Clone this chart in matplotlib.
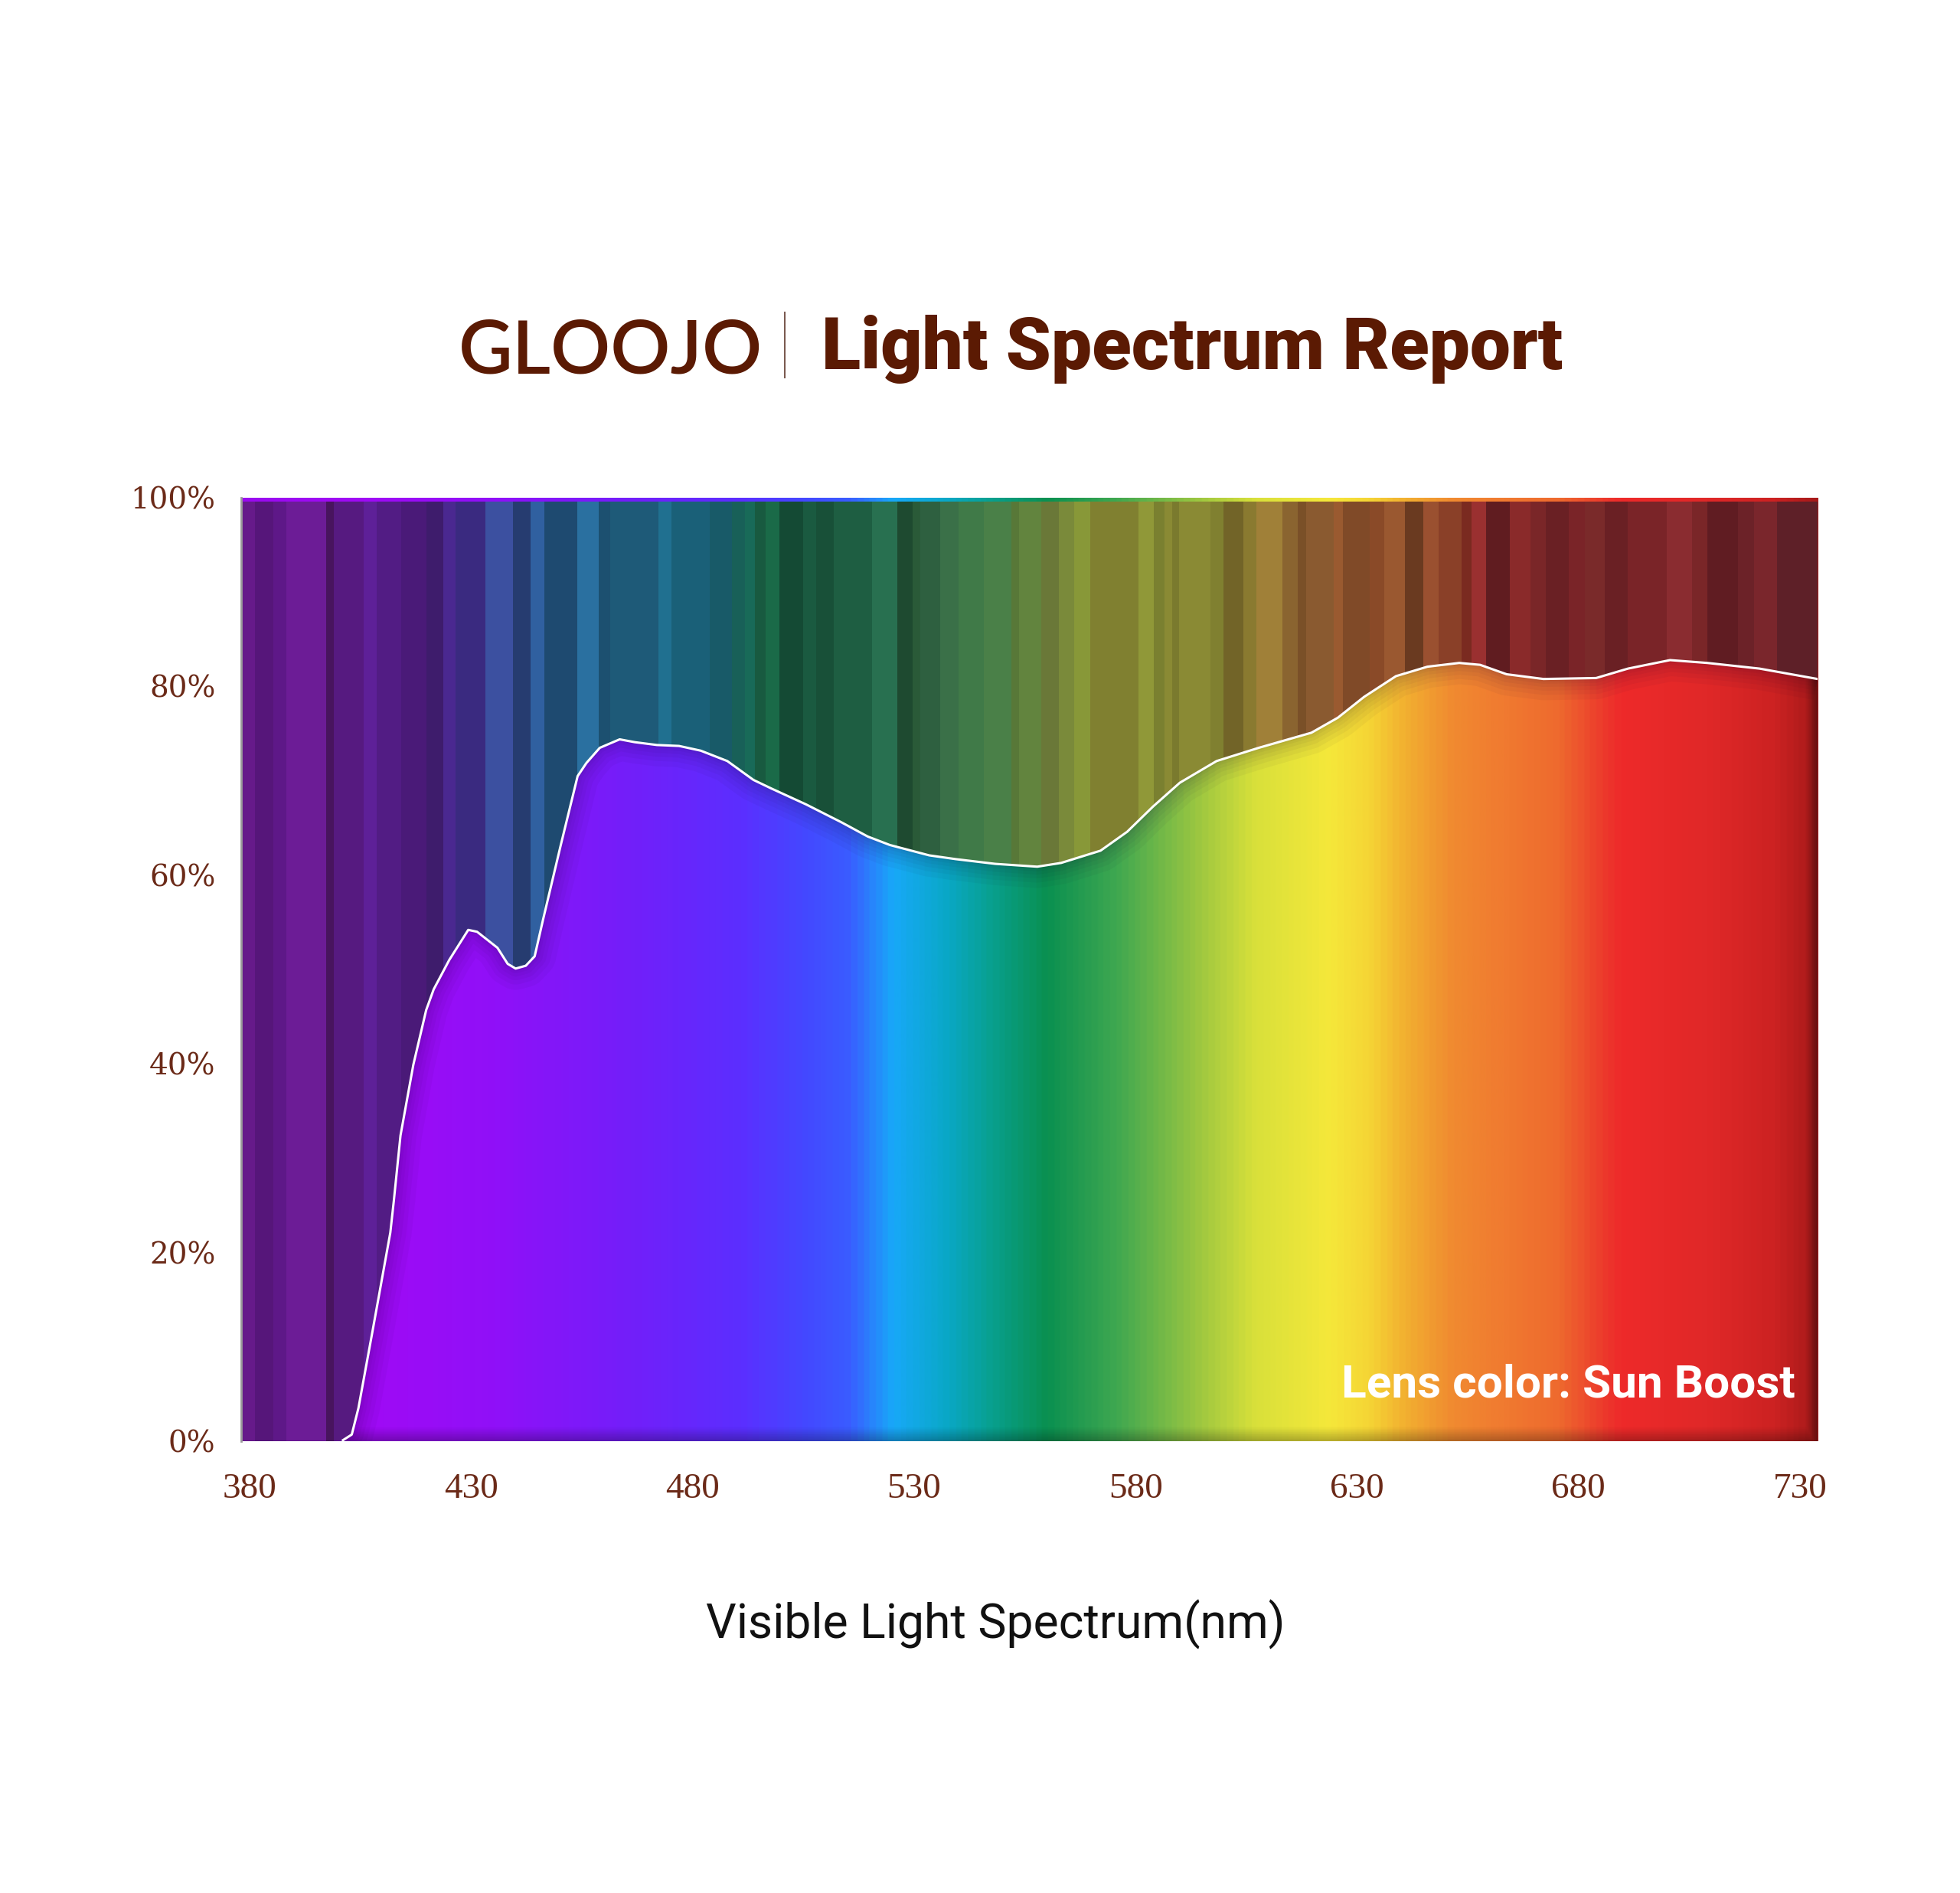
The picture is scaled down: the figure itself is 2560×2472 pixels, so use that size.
import numpy as np
import matplotlib
matplotlib.use('Agg')
import matplotlib.pyplot as plt
from matplotlib import font_manager
from matplotlib.colors import LinearSegmentedColormap
from matplotlib.patches import Polygon

# transmission curve (wavelength nm, transmission %)
wavelength = [378, 399, 401, 403, 404.5, 407.7, 411.7, 412.5, 414, 416.9, 419.8, 421.5,
              425, 429.3, 431.3, 435.9, 438.2, 440, 442.3, 444.3, 446.2, 450.2, 454,
              456, 459, 463.5, 466.9, 471.9, 476.9, 481.8, 487.8, 493.7, 497.7, 505.6,
              513.6, 519.5, 524.5, 533.4, 539.4, 548.3, 557.8, 563.2, 572.1, 578.1,
              584, 590, 598.3, 607.8, 619.7, 625.7, 631.6, 638.8, 645.9, 653.1, 657.8,
              663.8, 672.1, 684, 691.2, 700.7, 709.1, 720.9, 734]
transmission = [0, 0, 0.1, 0.7, 3.5, 11.7, 22.1, 25.5, 32.4, 39.9, 45.7, 47.9,
                51.0, 54.2, 54.0, 52.3, 50.6, 50.1, 50.4, 51.4, 55.3, 63.2, 70.5,
                71.9, 73.5, 74.4, 74.1, 73.8, 73.7, 73.2, 72.1, 70.1, 69.2, 67.5,
                65.6, 64.1, 63.2, 62.1, 61.7, 61.2, 60.9, 61.3, 62.6, 64.6,
                67.3, 69.8, 72.1, 73.5, 75.1, 76.7, 78.9, 81.1, 82.1, 82.5, 82.3,
                81.3, 80.8, 80.9, 81.9, 82.8, 82.5, 81.9, 80.8]

x_ticks = [380, 430, 480, 530, 580, 630, 680, 730]
y_ticks = [0, 20, 40, 60, 80, 100]
y_labels = ['0%', '20%', '40%', '60%', '80%', '100%']

# bright spectrum under the curve
spec_nm = [378, 405, 435, 468, 490, 505, 515, 525, 537, 547, 560, 576, 595, 607,
           624, 633, 641, 652, 665, 676, 686, 690, 710, 725, 734]
spec_col = ['#9a0af0', '#a00af5', '#9010f8', '#7020fa', '#5c2eff', '#4448ff', '#3a5cff',
            '#18a8f8', '#0aa8c8', '#08a090', '#0a9050', '#40a850', '#a0c840', '#d8e03a',
            '#f5e83a', '#f5d535', '#f2b030', '#f08a30', '#f07830', '#ee6a2e', '#ec3a2c',
            '#ee2a2a', '#e02828', '#cc2222', '#a81a1a']

# dark stripes above the curve (start nm, colour)
stripe_start = [378, 381.2, 385.2, 388.3, 397.2, 398.9, 405.6, 408.7, 414.1, 419.8, 423.6,
                426.4, 433.1, 439.4, 443.4, 446.5, 454.0, 458.8, 461.4, 472.3, 475.2,
                483.8, 488.9, 491.8, 494.1, 496.4, 499.6, 505.0, 507.8, 511.8, 520.5,
                526.2, 529.6, 531.3, 535.9, 540.0, 545.7, 552.0, 553.7, 558.7, 562.7,
                566.2, 569.7, 580.7, 584.1, 586.5, 588.2, 589.9, 596.9, 599.8, 604.4,
                607.3, 613.1, 616.6, 618.6, 624.7, 626.8, 632.8, 636.2, 640.9, 644.9,
                648.4, 653.6, 655.9, 659.2, 664.6, 669.2, 672.7, 677.9, 681.4, 686.0,
                691.2, 699.9, 705.7, 709.2, 716.1, 719.6, 724.8]
stripe_col = ['#661a8a', '#56167a', '#5e1888', '#6c1c96', '#48145e', '#561a80', '#5e2098',
              '#521c84', '#4a1a78', '#3e1c6c', '#4a2890', '#3a2a80', '#3c50a0', '#263c70',
              '#3060a0', '#1e4a70', '#2a70a0', '#1c5070', '#1e5a78', '#207090', '#1a6078',
              '#185a68', '#186058', '#186a58', '#185a40', '#1a6a48', '#144a34', '#1a5a40',
              '#185038', '#1e5e42', '#287050', '#1e4a30', '#2a5a38', '#2e6040', '#3a7048',
              '#407a48', '#4a8048', '#587838', '#62843e', '#6a7838', '#7a8a3a', '#889838',
              '#808030', '#909838', '#7a8030', '#8a8a34', '#7a7a2e', '#8a8a34', '#808030',
              '#726428', '#8a7a30', '#a08038', '#8a6430', '#7a5028', '#8a5a30', '#9a5a30',
              '#804a28', '#8a4a28', '#9a5830', '#6a3a20', '#9a5030', '#8a4028', '#7a2a20',
              '#9a3030', '#601c20', '#8a2a2a', '#7a2628', '#6a2024', '#7a2428', '#7a2a2a',
              '#6a2024', '#7a2428', '#8a2c30', '#7a2628', '#601c22', '#6c2228', '#7a262c',
              '#5e2028']

names = {f.name for f in font_manager.fontManager.ttflist}
def pick(*cands):
    for c in cands:
        if c in names:
            return c
    return 'DejaVu Sans'

brown = '#6b2a18'
title_brown = '#5b1a03'
x0, x1 = 378, 734

fig = plt.figure(figsize=(25.6, 24.72), dpi=100)
fig.patch.set_facecolor('white')
ax = fig.add_axes([0.123, 0.2387, 0.8043, 0.4983])
ax.set_xlim(x0, x1)
ax.set_ylim(0, 100)

pos = [(n - x0) / (x1 - x0) for n in spec_nm]
cmap = LinearSegmentedColormap.from_list('spec', list(zip(pos, spec_col)))
grad = np.linspace(0, 1, 1200)[None, :]

# full gradient behind (shows as thin band at the top)
ax.imshow(grad, cmap=cmap, aspect='auto', extent=(x0, x1, 0, 100), zorder=0,
          interpolation='bilinear')

edges = stripe_start + [x1]
for i, c in enumerate(stripe_col):
    ax.axvspan(edges[i], edges[i + 1], ymin=0, ymax=0.996, color=c, lw=0, zorder=1)

wl = np.array(wavelength)
tr = np.array(transmission)
verts = np.column_stack([np.r_[wl, wl[-1], wl[0]], np.r_[tr, -1, -1]])
poly = Polygon(verts, closed=True, facecolor='none', edgecolor='none',
               transform=ax.transData)
ax.add_patch(poly)

im = ax.imshow(grad, cmap=cmap, aspect='auto', extent=(x0, x1, 0, 100), zorder=2,
               interpolation='bilinear')
im.set_clip_path(poly)

# soft inner shadow along the curve
for lw in [40, 30, 22, 15, 9, 5]:
    ln, = ax.plot(wl, tr, color='#1a0030', alpha=0.04, lw=lw, zorder=3,
                  solid_capstyle='butt', solid_joinstyle='round')
    ln.set_clip_path(poly)

# darker bottom and right edges of the filled area
gy = np.linspace(0, 100, 400)[:, None]
gx = np.linspace(x0, x1, 800)[None, :]
a = np.maximum(np.clip(1 - gy / 1.4, 0, 1) * 0.25, np.clip(1 - (x1 - gx) / 2.5, 0, 1) * 0.4)
ov = np.zeros((400, 800, 4))
ov[..., 3] = a
ov_im = ax.imshow(ov, aspect='auto', extent=(x0, x1, 0, 100), origin='lower', zorder=4)
ov_im.set_clip_path(poly)

mask = wl >= 400
ax.plot(wl[mask], tr[mask], color='white', lw=2.2, zorder=5, solid_joinstyle='round')

ax.axvline(x0, color='#9a9a9a', lw=2, zorder=6, clip_on=False)

for s in ax.spines.values():
    s.set_visible(False)
ax.set_xticks(x_ticks)
ax.set_xticklabels([str(t) for t in x_ticks], fontsize=34, color=brown,
                   family=pick('Liberation Serif', 'DejaVu Serif'))
ax.set_yticks(y_ticks)
ax.set_yticklabels(y_labels, fontsize=28, color=brown, family='DejaVu Serif')
ax.tick_params(axis='x', length=0, pad=30)
ax.tick_params(axis='y', length=0, pad=24)

ax.text(729, 4.7, 'Lens color: Sun Boost', ha='right', va='baseline', color='white',
        fontsize=43.5, fontweight='bold', family=pick('Roboto', 'Inter', 'DejaVu Sans'),
        zorder=7)

# header
fig.text(599 / 2560, 1 - 487 / 2472, 'GLOOJO', ha='left', va='baseline',
         color=title_brown, fontsize=70, family=pick('Lato', 'Roboto'), fontweight='semibold')
fig.add_artist(plt.Line2D([1025 / 2560, 1025 / 2560], [1 - 493 / 2472, 1 - 408 / 2472],
                          color='#7a5a50', lw=1.5))
fig.text(1073 / 2560, 1 - 482 / 2472, 'Light Spectrum Report', ha='left', va='baseline',
         color=title_brown, fontsize=68, fontweight='black',
         family=pick('Roboto', 'Inter', 'DejaVu Sans'))

fig.text(1300 / 2560, 1 - 2139 / 2472, 'Visible Light Spectrum(nm)', ha='center',
         va='baseline', color='#111111', fontsize=45, fontweight='normal',
         family=pick('Liberation Sans Narrow', 'Roboto', 'DejaVu Sans'))

fig.savefig('out.png', dpi=100, facecolor='white')
